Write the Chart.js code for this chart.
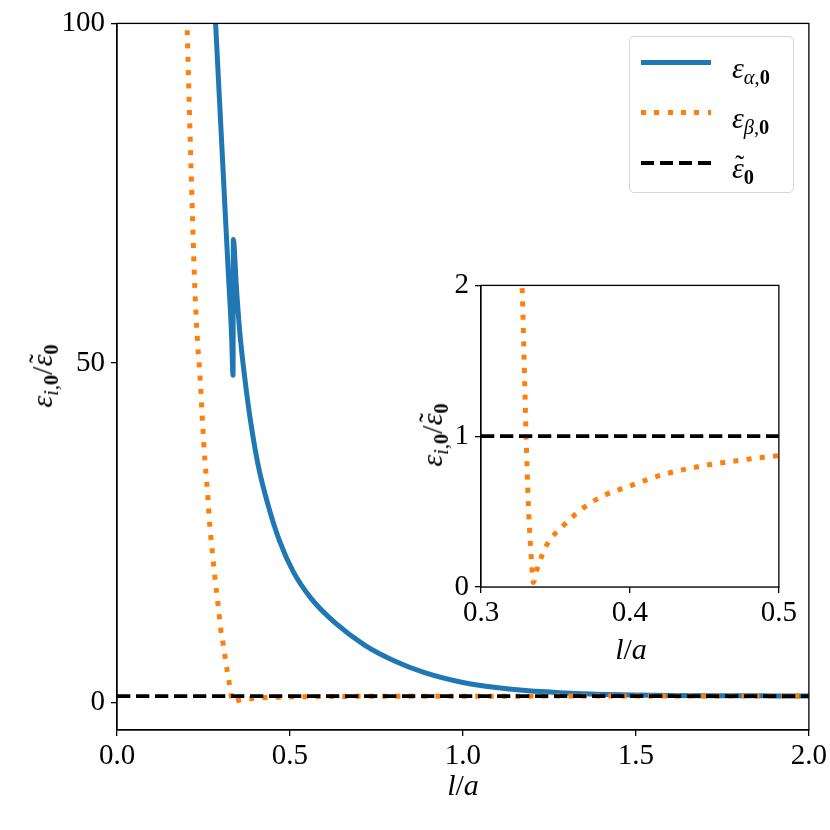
<!DOCTYPE html>
<html>
<head>
<meta charset="utf-8">
<script src="https://cdn.jsdelivr.net/npm/chart.js@4.4.1/dist/chart.umd.min.js"></script>
<style>
  html, body { margin:0; padding:0; background:#fff; }
  #wrap { position:relative; width:830px; height:830px; overflow:hidden; font-family:'Liberation Serif', 'DejaVu Serif', serif; color:#000; }
  canvas { position:absolute; }
  .lbl { position:absolute; white-space:nowrap; font-size:30px; line-height:1; }
  .rot { transform:translate(-50%,-50%) rotate(-90deg); }
  .ctr { transform:translate(-50%,-50%); }
  i { font-style:italic; }
  sub { font-size:0.68em; vertical-align:-0.28em; line-height:0; }
  .tl { position:relative; display:inline-block; }
  .tl .tilde { position:absolute; left:0.12em; top:-0.02em; font-style:normal; font-size:0.9em; }
  #legend { position:absolute; left:629px; top:36px; width:163px; height:155px; border:1.5px solid #d6d6d6; border-radius:5px; background:rgba(255,255,255,0.85); }
  .sample { position:absolute; left:11px; width:70px; }
  .ltext { position:absolute; left:102px; font-size:30px; line-height:1; white-space:nowrap; transform:translateY(-50%); }
</style>
</head>
<body>
<div id="wrap">
  <canvas id="main" width="830" height="830" style="left:0;top:0;width:830px;height:830px"></canvas>
  <canvas id="inset" width="400" height="420" style="left:400px;top:262px;width:400px;height:420px"></canvas>

  <div class="lbl rot" style="left:42px;top:376px;"><i>ε</i><sub><i>i</i>,<b>0</b></sub>/<span class="tl"><i>ε</i><span class="tilde">˜</span></span><sub><b>0</b></sub></div>
  <div class="lbl ctr" style="left:463px;top:785px;"><i>l</i>/<i>a</i></div>

  <div class="lbl rot" style="left:432px;top:435px;"><i>ε</i><sub><i>i</i>,<b>0</b></sub>/<span class="tl"><i>ε</i><span class="tilde">˜</span></span><sub><b>0</b></sub></div>
  <div class="lbl ctr" style="left:631px;top:649px;"><i>l</i>/<i>a</i></div>

  <div id="legend">
    <div class="sample" style="top:23px;height:5px;background:#1f77b4;"></div>
    <div class="ltext" style="top:31px;"><i>ε</i><sub><i>α</i>,<b>0</b></sub></div>
    <div class="sample" style="top:73px;height:5px;background:repeating-linear-gradient(to right,#ff7f0e 0 5px,transparent 5px 13.3px);"></div>
    <div class="ltext" style="top:81px;"><i>ε</i><sub><i>β</i>,<b>0</b></sub></div>
    <div class="sample" style="top:124px;height:4px;background:repeating-linear-gradient(to right,#000 0 13.3px,transparent 13.3px 19px);"></div>
    <div class="ltext" style="top:131px;"><span class="tl"><i>ε</i><span class="tilde">˜</span></span><sub><b>0</b></sub></div>
  </div>
</div>

<script>
// ---- data ----
const alphaX = [0.285,0.297,0.309,0.321,0.331,0.3355,0.3362,0.345,0.355,0.3694,0.3839,0.4079,0.4368,0.4704,0.509,0.5621,0.6299,0.7157,0.8023,0.889,1.000,1.096,1.190,1.300,1.385,1.500,1.600,1.700,1.800,1.900,2.000];
const alphaY = [100,88.0,76.0,64.0,54.4,48.2,68.2,61.3,54.5,47.8,42.2,35.0,29.1,23.75,19.35,15.3,11.8,8.5,6.16,4.45,3.0,2.24,1.76,1.45,1.27,1.15,1.09,1.05,1.03,1.02,1.01];

const betaX = [0.203,0.211,0.218,0.225,0.233,0.240,0.247,0.254,0.261,0.268,0.276,0.283,0.292,0.300,0.307,0.312,0.318,0.324,0.3277,0.3289,0.3302,0.3318,0.3340,0.3351,0.3374,0.3440,0.3553,0.3676,0.3820,0.4000,0.4224,0.4470,0.4693,0.4950,0.550,0.650,0.800,1.000,1.500,2.000];
const betaY = [99,84,72,61,53,48,41.5,35.8,31.5,26.3,22,18.4,14.5,10.8,8.6,6.9,4.9,3.0,1.96,1.53,1.03,0.55,0.155,0.03,0.11,0.276,0.407,0.516,0.604,0.67,0.746,0.80,0.834,0.866,0.90,0.94,0.965,0.98,0.99,1.0];

const refLevel = 1;
const mainXTicks = [0.0,0.5,1.0,1.5,2.0];
const mainYTicks = [0,50,100];
const insetXTicks = [0.3,0.4,0.5];
const insetYTicks = [0,1,2];

const pts = (xs, ys) => xs.map((x,i)=>({x, y: ys[i]}));

const TICKFONT = { family: "'Liberation Serif', serif", size: 29 };

const boxPlugin = {
  id: 'box',
  beforeDatasetsDraw(chart) {
    const {ctx, chartArea:a} = chart;
    if (chart.options.plugins.box && chart.options.plugins.box.fill) {
      ctx.save(); ctx.fillStyle = '#fff';
      ctx.fillRect(a.left, a.top, a.right-a.left, a.bottom-a.top);
      ctx.restore();
    }
  },
  afterDraw(chart) {
    const {ctx, chartArea:a} = chart;
    ctx.save(); ctx.strokeStyle = '#000'; ctx.lineWidth = 1.3;
    ctx.strokeRect(a.left, a.top, a.right-a.left, a.bottom-a.top);
    ctx.restore();
  }
};

function makeChart(id, xr, yr, xt, yt, yw, xh, pad, fill) {
  const ds = [
    { label:'alpha', data: pts(alphaX, alphaY), borderColor:'#1f77b4', borderWidth:5, pointRadius:0, cubicInterpolationMode:'monotone', order:2, clip:0, borderCapStyle:'round', borderJoinStyle:'round' },
    { label:'beta', data: pts(betaX, betaY), borderColor:'#ff7f0e', borderWidth:5, borderDash:[5,8.3], pointRadius:0, cubicInterpolationMode:'monotone', order:1, clip:0, borderCapStyle:'butt' },
    { label:'ref', data: [{x:xr[0],y:refLevel},{x:xr[1],y:refLevel}], borderColor:'#000', borderWidth:3.7, borderDash:[13.3,5.7], pointRadius:0, order:0, clip:0, borderCapStyle:'butt' }
  ];
  return new Chart(document.getElementById(id), {
    type: 'line',
    data: { datasets: ds },
    plugins: [boxPlugin],
    options: {
      responsive:false, animation:false, devicePixelRatio:1,
      layout: { padding: pad },
      plugins: { legend:{display:false}, tooltip:{enabled:false}, box:{fill} },
      scales: {
        x: {
          type:'linear', min:xr[0], max:xr[1],
          afterBuildTicks: s => { s.ticks = xt.map(v=>({value:v})); },
          afterFit: s => { s.height = xh; },
          ticks: { font: TICKFONT, color:'#000', padding:3, maxRotation:0, autoSkip:false, callback: v => Number(v).toFixed(1) },
          grid: { drawOnChartArea:false, drawTicks:true, tickLength:6, color:'#000', lineWidth:1.3 },
          border: { display:true, color:'#000', width:1.3 }
        },
        y: {
          type:'linear', min:yr[0], max:yr[1],
          afterBuildTicks: s => { s.ticks = yt.map(v=>({value:v})); },
          afterFit: s => { s.width = yw; },
          ticks: { font: TICKFONT, color:'#000', padding:6, autoSkip:false, callback: v => String(v) },
          grid: { drawOnChartArea:false, drawTicks:true, tickLength:6, color:'#000', lineWidth:1.3 },
          border: { display:true, color:'#000', width:1.3 }
        }
      }
    }
  });
}

makeChart('main', [0,2], [-4,100], mainXTicks, mainYTicks, 117, 100, {top:20,right:20,left:0,bottom:0}, false);
makeChart('inset', [0.3,0.5], [0,2], insetXTicks, insetYTicks, 81, 95, {top:20,right:21,left:0,bottom:0}, true);
</script>
</body>
</html>
